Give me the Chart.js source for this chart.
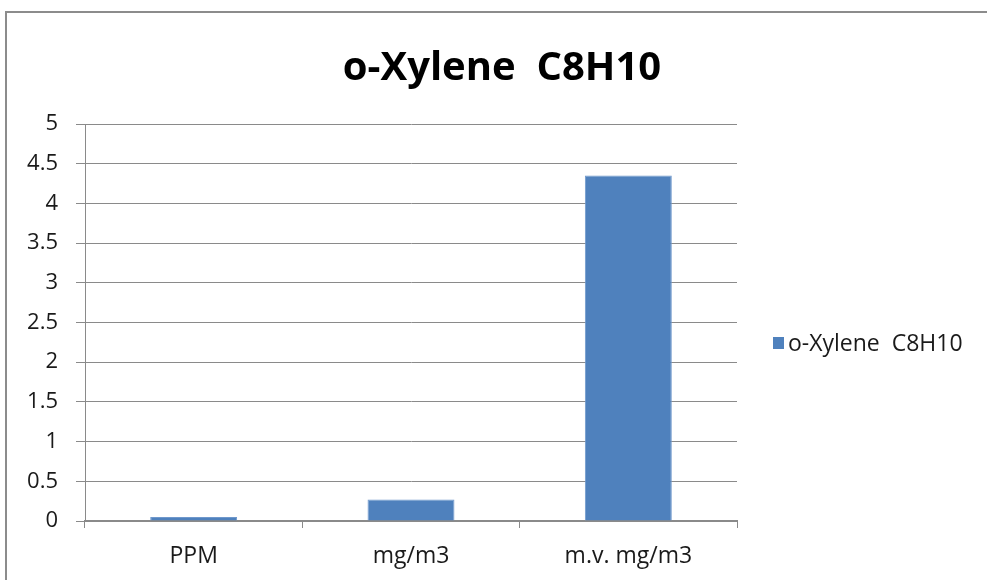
<!DOCTYPE html>
<html>
<head>
<meta charset="utf-8">
<script src="https://cdn.jsdelivr.net/npm/chart.js@4"></script>
<style>
  html, body { margin: 0; padding: 0; background: #ffffff; overflow: hidden; }
  #wrap { position: relative; width: 987px; height: 580px; }
  #frame {
    position: absolute; left: 5px; top: 11px; width: 1200px; height: 800px;
    border-left: 2px solid #8c8c8c; border-top: 2px solid #8c8c8c;
    box-sizing: border-box; pointer-events: none;
  }
  canvas { position: absolute; left: 0; top: 0; }
</style>
</head>
<body>
<div id="wrap">
  <div id="frame"></div>
  <canvas id="barChart" width="987" height="580"></canvas>
</div>
<script>
const ctx = document.getElementById("barChart").getContext("2d");

const categories = ["PPM", "mg/m3", "m.v. mg/m3"];
const seriesName = "o-Xylene  C8H10";
const seriesValues = [0.05, 0.27, 4.35];

const BAR_BLUE = "#4f81bd";
const GRID_GRAY = "#8a8a8a";
const TEXT = "#1a1a1a";
const FONT = "'Open Sans', Lato, sans-serif";

// title centred on the whole frame and legend at the right, like the office chart
const titleAndLegend = {
  id: "titleAndLegend",
  afterDraw(chart) {
    const c = chart.ctx;
    const ds = chart.data.datasets[0];
    c.save();
    c.fillStyle = "#000000";
    c.font = "bold 40px " + FONT;
    c.textAlign = "center";
    c.textBaseline = "alphabetic";
    c.fillText(ds.label, 502, 80);

    c.fillStyle = ds.backgroundColor;
    c.fillRect(773, 337, 11, 12);
    c.fillStyle = TEXT;
    c.font = "23px " + FONT;
    c.textAlign = "left";
    c.fillText(ds.label, 788, 351);
    c.restore();
  },
};

const data = {
  labels: categories,
  datasets: [
    {
      label: seriesName,
      data: seriesValues,
      backgroundColor: BAR_BLUE,
      borderColor: "#6f98cc",
      borderWidth: 1,
      categoryPercentage: 0.8,
      barPercentage: 0.5,
    },
  ],
};

const config = {
  type: "bar",
  data: data,
  options: {
    responsive: false,
    animation: false,
    layout: {
      padding: { left: 0, right: 250, top: 124, bottom: 0 },
    },
    plugins: {
      legend: { display: false },
      tooltip: { enabled: false },
      title: { display: false },
    },
    scales: {
      x: {
        afterFit: (scale) => { scale.height = 59; },
        grid: {
          offset: true,
          drawOnChartArea: false,
          drawTicks: true,
          tickLength: 7,
          color: GRID_GRAY,
        },
        border: { color: GRID_GRAY, width: 2 },
        ticks: {
          color: TEXT,
          font: { family: FONT, size: 23 },
          padding: 15,
        },
      },
      y: {
        min: 0,
        max: 5,
        afterFit: (scale) => { scale.width = 85; },
        grid: {
          color: GRID_GRAY,
          lineWidth: 1,
          tickLength: 9,
        },
        border: { color: GRID_GRAY, width: 1 },
        ticks: {
          stepSize: 0.5,
          color: TEXT,
          font: { family: FONT, size: 22 },
          padding: 18,
          callback: (value) => String(value),
        },
      },
    },
  },
  plugins: [titleAndLegend],
};

new Chart(ctx, config);
</script>
</body>
</html>
